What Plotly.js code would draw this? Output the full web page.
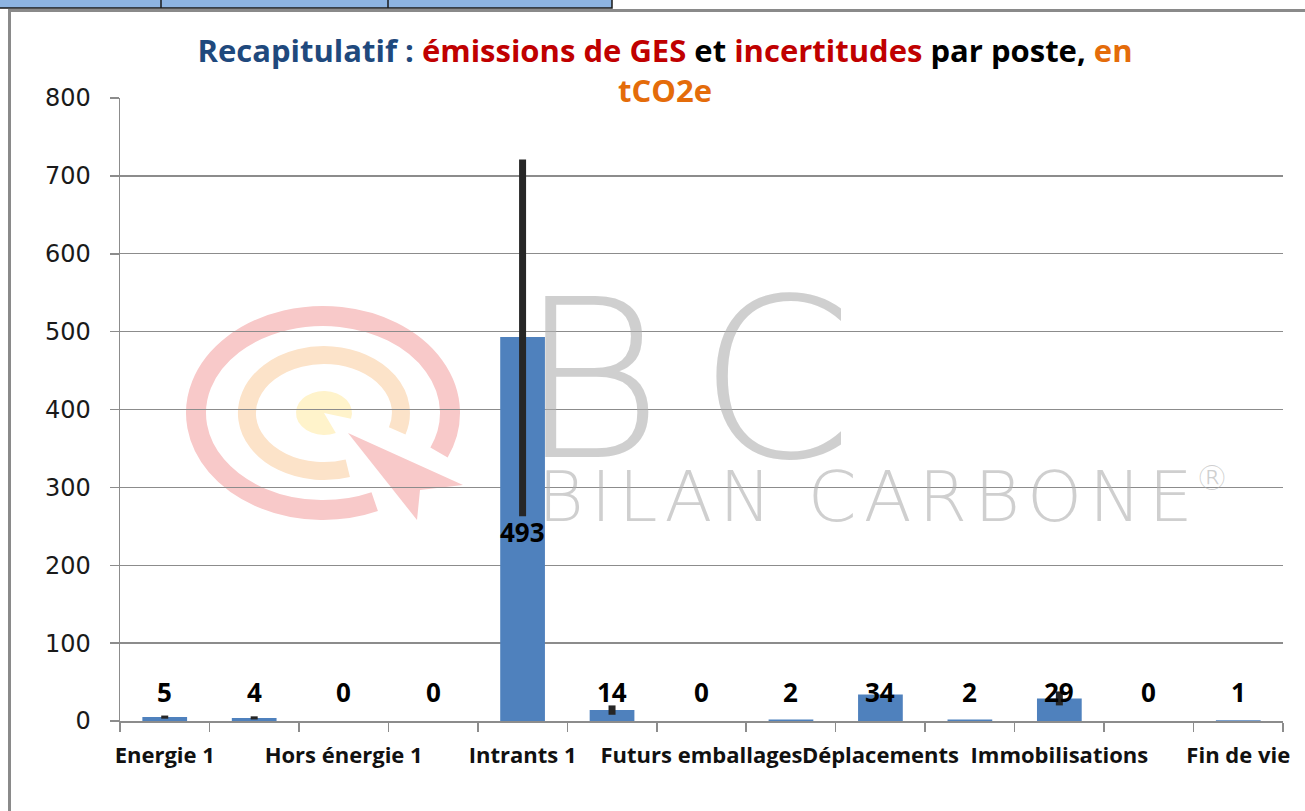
<!DOCTYPE html>
<html>
<head>
<meta charset="utf-8">
<script src="https://cdn.plot.ly/plotly-3.0.1.min.js"></script>
<style>
html,body{margin:0;padding:0;background:#fff;}
#chart{width:1305px;height:811px;}
</style>
</head>
<body>
<div id="chart"></div>
<script>
// ---- data ----
const categories = ["Energie 1","Energie 2","Hors énergie 1","Hors énergie 2","Intrants 1","Intrants 2",
  "Futurs emballages","Frêt","Déplacements","Déchets directs","Immobilisations","Utilisation","Fin de vie"];
const emissions = [5, 4, 0, 0, 493, 14, 0, 2, 34, 2, 29, 0, 1];
const uncertaintyPlus  = [2, 2, 0, 0, 228, 6, 0, 0, 0, 0, 9, 0, 0];
const uncertaintyMinus = [2, 2, 0, 0, 230, 6, 0, 0, 0, 0, 9, 0, 0];
const yTicks = [0, 100, 200, 300, 400, 500, 600, 700, 800];

// ---- geometry helpers (page pixels -> paper coords) ----
const W = 1305, H = 811, ML = 120, MR = 22, MT = 98, MB = 90;
const PW = W - ML - MR, PH = H - MT - MB;
const px = x => (x - ML) / PW;
const py = y => (H - MB - y) / PH;

const GRID = '#8c8c8c';
const WM = 'rgba(175,175,175,0.6)';
const WMFONT = 'DejaVu Sans ExtraLight, DejaVu Sans, sans-serif';

const barTrace = {
  type: 'bar',
  x: categories,
  y: emissions,
  marker: {color: '#4F81BD', line: {width: 0}},
  error_y: {type: 'data', symmetric: false, array: uncertaintyPlus, arrayminus: uncertaintyMinus,
            color: '#262626', thickness: 7, width: 0},
  hoverinfo: 'x+y'
};

// data labels
const annotations = categories.map((c, i) => ({
  x: c, xref: 'x', yref: 'y',
  y: emissions[i] > 100 ? emissions[i] - uncertaintyMinus[i] - 20 : 37,
  text: String(emissions[i]), showarrow: false,
  font: {family: 'Open Sans, sans-serif', size: 26, color: '#000', weight: 700},
  xanchor: 'center', yanchor: 'middle'
}));

// watermark text
annotations.push({
  xref: 'paper', yref: 'paper', x: px(590), y: py(380), text: 'B', showarrow: false, height: 180,
  font: {family: WMFONT, size: 222, color: WM, weight: 200}, xanchor: 'center', yanchor: 'middle'
});
annotations.push({
  xref: 'paper', yref: 'paper', x: px(775), y: py(380), text: 'C', showarrow: false, height: 180,
  font: {family: WMFONT, size: 222, color: WM, weight: 200}, xanchor: 'center', yanchor: 'middle'
});
annotations.push({
  xref: 'paper', yref: 'paper', x: px(866), y: py(497), text: 'B\u200AI\u200AL\u200AA\u200AN\u2009 C\u200AA\u200AR\u200AB\u200AO\u200AN\u200AE', showarrow: false, height: 60,
  font: {family: WMFONT, size: 70, color: WM, weight: 200}, xanchor: 'center', yanchor: 'middle'
});
annotations.push({
  xref: 'paper', yref: 'paper', x: px(1212), y: py(478), text: '®', showarrow: false,
  font: {family: WMFONT, size: 34, color: WM, weight: 200}, xanchor: 'center', yanchor: 'middle'
});

// target logo watermark (svg image)
function arcPath(cx, cy, rx, ry, a0, a1) {
  const r = d => d * Math.PI / 180;
  const x0 = cx + rx * Math.cos(r(a0)), y0 = cy + ry * Math.sin(r(a0));
  const x1 = cx + rx * Math.cos(r(a1)), y1 = cy + ry * Math.sin(r(a1));
  const large = ((a1 - a0 + 360) % 360) > 180 ? 1 : 0;
  return `M${x0.toFixed(1)},${y0.toFixed(1)} A${rx},${ry} 0 ${large} 1 ${x1.toFixed(1)},${y1.toFixed(1)}`;
}
function piePath(cx, cy, rx, ry, a0, a1) {
  const r = d => d * Math.PI / 180;
  const x0 = cx + rx * Math.cos(r(a0)), y0 = cy + ry * Math.sin(r(a0));
  const x1 = cx + rx * Math.cos(r(a1)), y1 = cy + ry * Math.sin(r(a1));
  return `M${cx},${cy} L${x0.toFixed(1)},${y0.toFixed(1)} A${rx},${ry} 0 1 1 ${x1.toFixed(1)},${y1.toFixed(1)} Z`;
}
const svg = `<svg xmlns="http://www.w3.org/2000/svg" width="${W}" height="${H}" viewBox="0 0 ${W} ${H}" preserveAspectRatio="none">
<path d="${arcPath(323, 413, 127, 97, 66, 384)}" fill="none" stroke="#F8C9C9" stroke-width="20"/>
<path d="${arcPath(324, 413, 77, 58, 72, 378)}" fill="none" stroke="#FCE3C9" stroke-width="18"/>
<path d="${piePath(324, 413, 28, 22, 65, 15)}" fill="#FFF3CB"/>
<path d="M348,433 L463,485 L420,490 L417,520 Z" fill="#F8C9C9"/>
</svg>`;
const svgUri = 'data:image/svg+xml;charset=utf-8,' + encodeURIComponent(svg);

const shapes = [
  // spreadsheet cells above the chart
  {type: 'rect', xref: 'paper', yref: 'paper', x0: px(-2), x1: px(612), y0: py(-2), y1: py(8),
   fillcolor: '#8DB4E2', line: {color: '#1a1a1a', width: 1.5}, layer: 'below'},
  {type: 'line', xref: 'paper', yref: 'paper', x0: px(161), x1: px(161), y0: py(0), y1: py(8), line: {color: '#1a1a1a', width: 1.5}},
  {type: 'line', xref: 'paper', yref: 'paper', x0: px(388), x1: px(388), y0: py(0), y1: py(8), line: {color: '#1a1a1a', width: 1.5}},
  // chart frame
  {type: 'line', xref: 'paper', yref: 'paper', x0: px(8), x1: px(1310), y0: py(10.5), y1: py(10.5), line: {color: '#8a8a8a', width: 3}},
  {type: 'line', xref: 'paper', yref: 'paper', x0: px(9.5), x1: px(9.5), y0: py(9), y1: py(815), line: {color: '#8a8a8a', width: 3}}
];

const layout = {
  width: W, height: H,
  margin: {l: ML, r: MR, t: MT, b: MB, pad: 0},
  paper_bgcolor: '#ffffff', plot_bgcolor: 'rgba(0,0,0,0)',
  showlegend: false,
  bargap: 0.5,
  title: {
    text: '<span style="color:#1F497D">Recapitulatif : </span><span style="color:#C00000">émissions de GES </span><span style="color:#000000">et </span><span style="color:#C00000">incertitudes </span><span style="color:#000000">par poste, </span><span style="color:#E46C0A">en</span><br><span style="color:#E46C0A">tCO2e</span>',
    font: {family: 'Open Sans, sans-serif', size: 31, weight: 700},
    x: 665 / W, xanchor: 'center', xref: 'container',
    y: 1 - 62 / H, yanchor: 'top', yref: 'container'
  },
  xaxis: {
    type: 'category', range: [-0.5, 12.5], autorange: false,
    tickmode: 'array', tickvals: categories,
    ticktext: categories.map((c, i) => i % 2 === 0 ? c : ''),
    tickson: 'boundaries', ticks: 'outside', ticklen: 9, tickcolor: GRID, tickwidth: 1.5,
    showline: true, linecolor: GRID, linewidth: 1.5, showgrid: false, zeroline: false,
    tickfont: {family: 'Open Sans, sans-serif', size: 22, color: '#111', weight: 700},
    ticklabelstandoff: 14, tickangle: 0, fixedrange: true
  },
  yaxis: {
    range: [0, 800], autorange: false, tickmode: 'array', tickvals: yTicks,
    ticks: 'outside', ticklen: 9, tickcolor: GRID, tickwidth: 1.5,
    showline: true, linecolor: GRID, linewidth: 1.5,
    showgrid: true, gridcolor: GRID, gridwidth: 1.3, zeroline: false,
    tickfont: {family: 'DejaVu Sans, sans-serif', size: 24, color: '#1a1a1a'},
    ticklabelstandoff: 14, fixedrange: true
  },
  images: [{source: svgUri, xref: 'paper', yref: 'paper', x: px(0), y: py(0), sizex: W / PW, sizey: H / PH,
            xanchor: 'left', yanchor: 'top', sizing: 'stretch', layer: 'below', opacity: 1}],
  shapes: shapes,
  annotations: annotations
};

Plotly.newPlot('chart', [barTrace], layout, {displayModeBar: false, staticPlot: true});
</script>
</body>
</html>
